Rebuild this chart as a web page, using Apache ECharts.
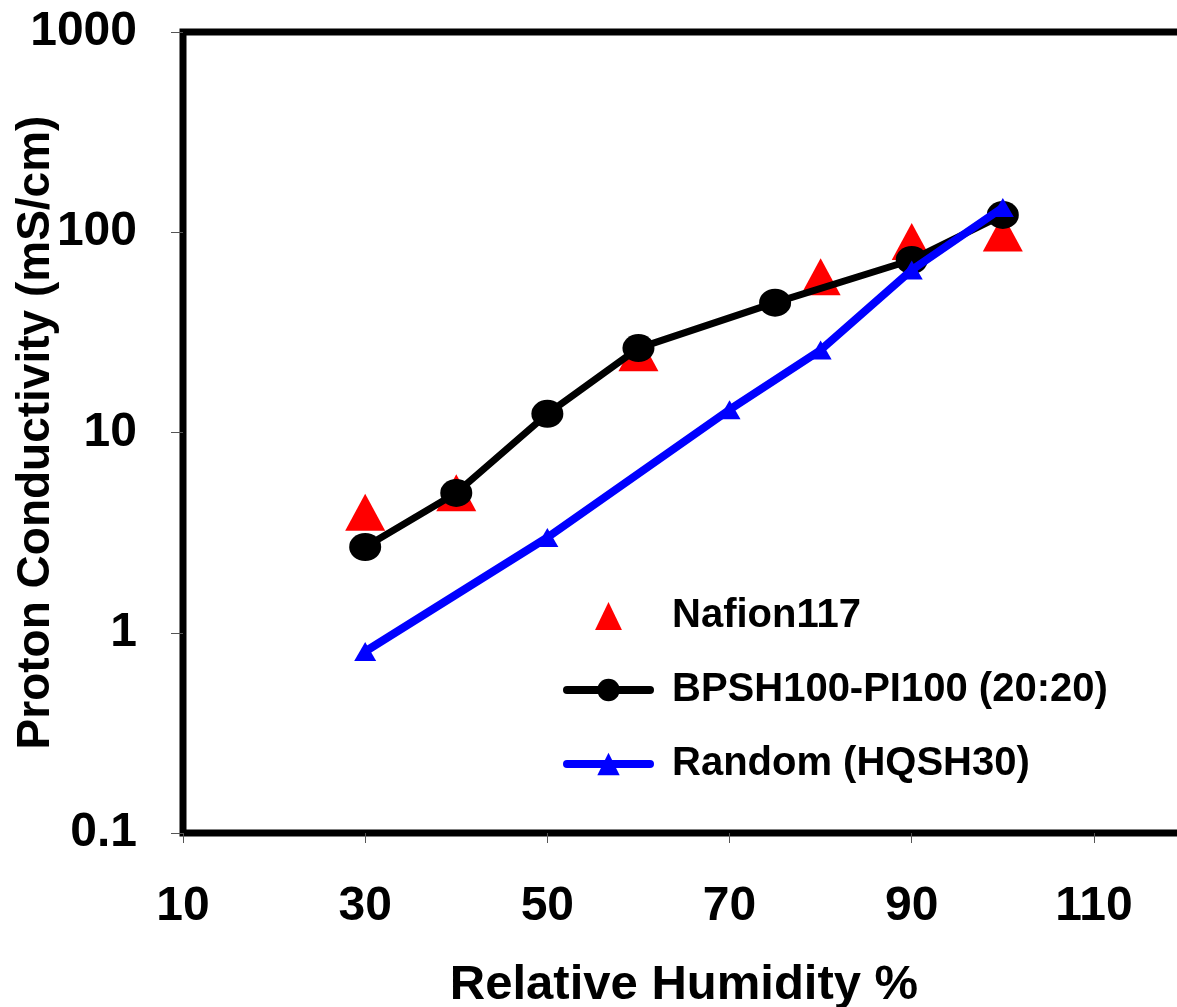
<!DOCTYPE html>
<html><head><meta charset="utf-8">
<script src="https://cdn.jsdelivr.net/npm/echarts@6/dist/echarts.min.js"></script>
<style>html,body{margin:0;padding:0;background:#fff}#c{width:1177px;height:1007px}</style>
</head><body><div id="c"></div>
<script>
const nafionRH = [30, 40, 60, 80, 90, 100];
const nafionVal = [4.0, 5.0, 25, 60, 90, 99];
const bpshRH = [30, 40, 50, 60, 75, 90, 100];
const bpshVal = [2.68, 4.99, 12.4, 26.4, 44.5, 72.7, 122];
const randomRH = [30, 50, 70, 80, 90, 100];
const randomVal = [0.806, 2.99, 13.0, 25.8, 64.8, 133];
const xTickLabels = ['10', '30', '50', '70', '90', '110'];
const yTickLabels = ['0.1', '1', '10', '100', '1000'];
const names = ['Nafion117', 'BPSH100-PI100 (20:20)', 'Random (HQSH30)'];

const zip = (a, b) => a.map((v, i) => [v, b[i]]);
const FONT = '"Liberation Sans", Arial, sans-serif';
const chart = echarts.init(document.getElementById('c'));
chart.setOption({
  animation: false,
  backgroundColor: '#fff',
  grid: { left: 183, right: -8, top: 32, bottom: 174, outerBoundsMode: 'none', containLabel: false,
    show: true, borderColor: '#000', borderWidth: 7, backgroundColor: 'transparent' },
  legend: {
    orient: 'vertical', left: 563, top: 596, padding: 0, itemWidth: 83, itemHeight: 28, itemGap: 34,
    symbolKeepAspect: true,
    data: [
      { name: names[0], icon: 'path://M12,0 L24,25 L0,25 Z', itemStyle: { color: '#ff0000', opacity: 1 } },
      { name: names[1], lineStyle: { width: 8, color: '#000', cap: 'round' } },
      { name: names[2], lineStyle: { width: 8, color: '#0000ff', cap: 'round' } }
    ],
    textStyle: { fontFamily: FONT, fontWeight: 'bold', fontSize: 40, color: '#000', lineHeight: 40, padding: [0, 0, 0, 17] }
  },
  xAxis: {
    type: 'value', min: 10, max: 120, interval: 20,
    name: 'Relative Humidity %', nameLocation: 'middle', nameGap: 128, nameMoveOverlap: false,
    nameTextStyle: { fontFamily: FONT, fontWeight: 'bold', fontSize: 49, color: '#000' },
    axisLine: { show: false },
    axisTick: { show: true, length: 10, lineStyle: { color: '#555', width: 1 } },
    axisLabel: { margin: 50, fontFamily: FONT, fontWeight: 'bold', fontSize: 48, color: '#000',
      formatter: (v) => { const i = Math.round((v - 10) / 20); return xTickLabels[i] !== undefined && v <= 110 ? xTickLabels[i] : ''; } },
    splitLine: { show: false }
  },
  yAxis: {
    type: 'log', logBase: 10, min: 0.1, max: 1000,
    name: 'Proton Conductivity (mS/cm)', nameLocation: 'middle', nameGap: 124, nameRotate: 90, nameMoveOverlap: false,
    nameTextStyle: { fontFamily: FONT, fontWeight: 'bold', fontSize: 46, color: '#000' },
    axisLine: { show: false },
    axisTick: { show: true, length: 12, lineStyle: { color: '#555', width: 1 } },
    axisLabel: { margin: 46, fontFamily: FONT, fontWeight: 'bold', fontSize: 48, color: '#000',
      formatter: (v, i) => yTickLabels[i] },
    splitLine: { show: false }, minorTick: { show: false }
  },
  series: [
    { name: names[0], type: 'scatter', data: zip(nafionRH, nafionVal), symbol: 'triangle', symbolSize: [40, 37],
      itemStyle: { color: '#ff0000', opacity: 1 }, z: 2 },
    { name: names[1], type: 'line', data: zip(bpshRH, bpshVal), symbol: 'circle', symbolSize: [32, 28], showAllSymbol: true,
      lineStyle: { color: '#000', width: 7, cap: 'round' }, itemStyle: { color: '#000', borderWidth: 0 }, z: 3 },
    { name: names[2], type: 'line', data: zip(randomRH, randomVal), symbol: 'triangle', symbolSize: [22, 19], showAllSymbol: true,
      lineStyle: { color: '#0000ff', width: 8, cap: 'round' }, itemStyle: { color: '#0000ff', borderWidth: 0 }, z: 4 }
  ]
});
</script></body></html>
